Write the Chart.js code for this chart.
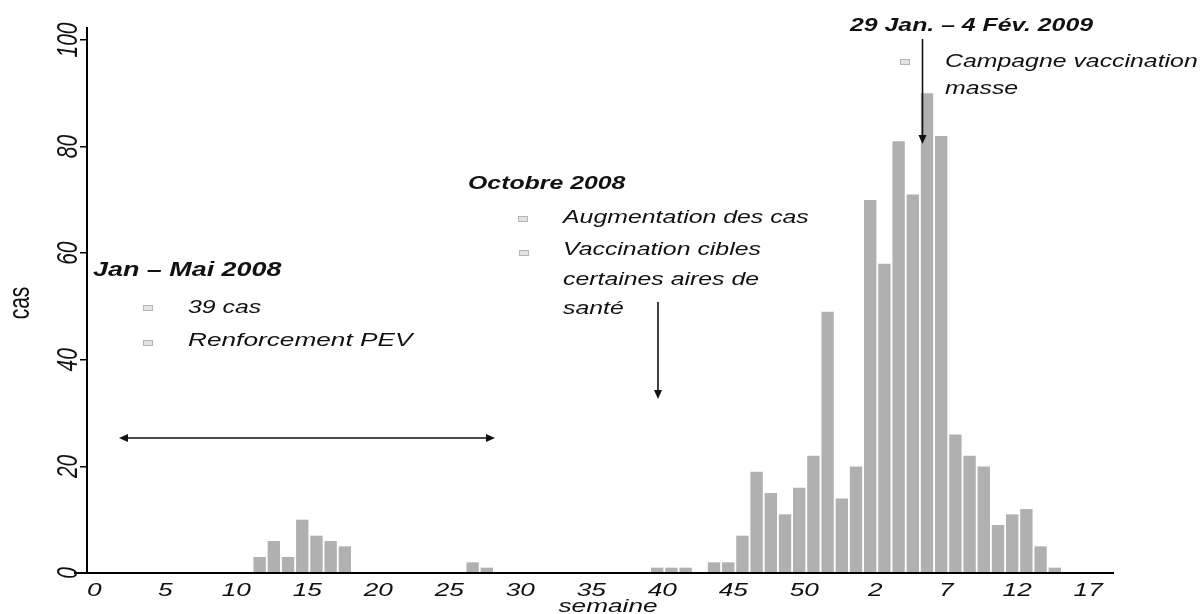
<!DOCTYPE html>
<html>
<head>
<meta charset="utf-8">
<script src="https://cdn.jsdelivr.net/npm/chart.js@4.4.1/dist/chart.umd.min.js"></script>
<style>
  html, body { margin: 0; padding: 0; background: #fff; }
  #wrap { width: 1201px; height: 614px; position: relative; }
</style>
</head>
<body>
<div id="wrap"><canvas id="c" width="1201" height="614"></canvas></div>
<script>
// Weekly case counts, 2008 (weeks 0-52) followed by 2009 (weeks 0-17)
const weeks2008 = [0,1,2,3,4,5,6,7,8,9,10,11,12,13,14,15,16,17,18,19,20,21,22,23,24,25,26,27,28,29,30,31,32,33,34,35,36,37,38,39,40,41,42,43,44,45,46,47,48,49,50,51,52];
const weeks2009 = [0,1,2,3,4,5,6,7,8,9,10,11,12,13,14,15,16,17];
const cases2008 = [0,0,0,0,0,0,0,0,0,0,0,0,3,6,3,10,7,6,5,0,0,0,0,0,0,0,0,2,1,0,0,0,0,0,0,0,0,0,0,0,1,1,1,0,2,2,7,19,15,11,16,22,49];
const cases2009 = [14,20,70,58,81,71,90,82,26,22,20,9,11,12,5,1,0,0];
const yTicks = [0, 20, 40, 60, 80, 100];
const xLabelEvery = 5;

const weekLabels = weeks2008.concat(weeks2009).map(String);
const cases = cases2008.concat(cases2009);
const points = cases.map((v, i) => ({ x: i, y: v }));

// Text in this figure is drawn horizontally widened
const SX = 1.38;
const FAMILY = '"Liberation Sans", Arial, Helvetica, sans-serif';
const INK = '#111';

function wideText(ctx, txt, x, y, font, align, rot) {
  ctx.save();
  ctx.translate(x, y);
  ctx.scale(SX, 1);
  if (rot) ctx.rotate(rot);
  ctx.font = font;
  ctx.fillStyle = INK;
  ctx.textAlign = align || 'left';
  ctx.textBaseline = 'middle';
  ctx.fillText(txt, 0, 0);
  ctx.restore();
}

function bullet(ctx, x, y) {
  ctx.save();
  ctx.fillStyle = '#e2e2e2';
  ctx.strokeStyle = '#b5b5b5';
  ctx.lineWidth = 1;
  ctx.fillRect(x - 4.5, y - 2.5, 9, 5);
  ctx.strokeRect(x - 4.5, y - 2.5, 9, 5);
  ctx.restore();
}

function arrowHead(ctx, x, y, dx, dy) {
  // tip at (x,y); (dx,dy) is unit direction of travel
  const L = 9, W = 4;
  ctx.beginPath();
  ctx.moveTo(x, y);
  ctx.lineTo(x - dx * L - dy * W, y - dy * L + dx * W);
  ctx.lineTo(x - dx * L + dy * W, y - dy * L - dx * W);
  ctx.closePath();
  ctx.fill();
}

function arrow(ctx, x1, y1, x2, y2, both) {
  const len = Math.hypot(x2 - x1, y2 - y1);
  const dx = (x2 - x1) / len, dy = (y2 - y1) / len;
  ctx.save();
  ctx.strokeStyle = INK;
  ctx.fillStyle = INK;
  ctx.lineWidth = 1.6;
  ctx.beginPath();
  ctx.moveTo(x1 + (both ? dx * 6 : 0), y1 + (both ? dy * 6 : 0));
  ctx.lineTo(x2 - dx * 6, y2 - dy * 6);
  ctx.stroke();
  arrowHead(ctx, x2, y2, dx, dy);
  if (both) arrowHead(ctx, x1, y1, -dx, -dy);
  ctx.restore();
}

const decorations = {
  id: 'decorations',
  afterDraw(chart) {
    const ctx = chart.ctx;
    const xs = chart.scales.x, ys = chart.scales.y;
    const base = ys.getPixelForValue(0);

    // baseline continues a little left of the vertical axis
    ctx.save();
    ctx.strokeStyle = '#000';
    ctx.lineWidth = 2;
    ctx.beginPath();
    ctx.moveTo(74, base);
    ctx.lineTo(chart.chartArea.left, base);
    ctx.stroke();
    ctx.restore();

    // y tick labels, parallel to the axis
    yTicks.forEach(v => {
      wideText(ctx, String(v), 69, ys.getPixelForValue(v),
        'italic 21px ' + FAMILY, 'center', -Math.PI / 2);
    });

    // x tick labels: every fifth week
    weekLabels.forEach((lab, i) => {
      if (i % xLabelEvery !== 0) return;
      wideText(ctx, lab, xs.getPixelForValue(i) + 5, 591, 'italic 19px ' + FAMILY, 'center');
    });

    // axis titles
    wideText(ctx, 'cas', 21, 303, '21px ' + FAMILY, 'center', -Math.PI / 2);
    wideText(ctx, 'semaine', 608, 607, 'italic 19px ' + FAMILY, 'center');

    // annotations
    const ital = 'italic 18px ' + FAMILY;

    wideText(ctx, 'Jan \u2013 Mai 2008', 93, 271, 'italic bold 19.5px ' + FAMILY);
    bullet(ctx, 148, 308);
    wideText(ctx, '39 cas', 188, 308, ital);
    bullet(ctx, 148, 343);
    wideText(ctx, 'Renforcement PEV', 188, 341, 'italic 19px ' + FAMILY);
    arrow(ctx, 119, 438, 495, 438, true);

    wideText(ctx, 'Octobre 2008', 468, 184, 'italic bold 18px ' + FAMILY);
    bullet(ctx, 523, 219);
    wideText(ctx, 'Augmentation des cas', 563, 218, ital);
    bullet(ctx, 524, 253);
    wideText(ctx, 'Vaccination cibles', 563, 250, ital);
    wideText(ctx, 'certaines aires de', 563, 280, ital);
    wideText(ctx, 'sant\u00e9', 563, 309, ital);
    arrow(ctx, 658, 302, 658, 399, false);

    wideText(ctx, '29 Jan. \u2013 4 F\u00e9v. 2009', 850, 26, 'italic bold 18px ' + FAMILY);
    bullet(ctx, 905, 62);
    wideText(ctx, 'Campagne vaccination', 945, 62, ital);
    wideText(ctx, 'masse', 945, 89, ital);
    arrow(ctx, 922.5, 39, 922.5, 144, false);
  }
};

new Chart(document.getElementById('c'), {
  type: 'bar',
  data: {
    datasets: [{
      data: points,
      backgroundColor: '#b0b0b0',
      borderWidth: 0,
      barPercentage: 0.87,
      categoryPercentage: 1.0
    }]
  },
  options: {
    responsive: false,
    devicePixelRatio: 1,
    animation: false,
    layout: { padding: { top: 28, right: 88, bottom: 0, left: 0 } },
    plugins: { legend: { display: false }, tooltip: { enabled: false } },
    scales: {
      x: {
        type: 'linear',
        min: -0.16,
        max: 72.1,
        offset: false,
        grid: { display: false },
        border: { display: true, color: '#000', width: 2, z: 1 },
        ticks: { display: false },
        afterFit(s) { s.height = 41; }
      },
      y: {
        min: 0,
        max: 102.25,
        grid: { display: true, drawOnChartArea: false, drawTicks: true, tickLength: 7, color: '#000', lineWidth: 1.5 },
        border: { display: true, color: '#000', width: 2, z: 1 },
        ticks: { display: false },
        afterBuildTicks(s) { s.ticks = yTicks.map(v => ({ value: v })); },
        afterFit(s) { s.width = 87; }
      }
    }
  },
  plugins: [decorations]
});
</script>
</body>
</html>
